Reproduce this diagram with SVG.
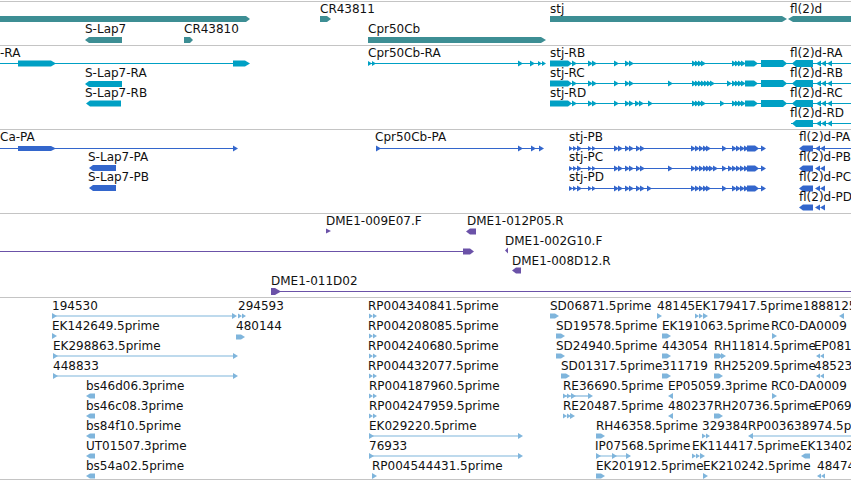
<svg xmlns="http://www.w3.org/2000/svg" xmlns:xlink="http://www.w3.org/1999/xlink" width="851" height="481" viewBox="0 0 851 481">
<style>
text{font-family:"DejaVu Sans","Liberation Sans",sans-serif;font-size:12px;fill:#111}
.sep{stroke:#c4c4c4;stroke-width:1}
.g{fill:#3d8e94}
.t{fill:#00a0c4}.tl{stroke:#00a0c4;stroke-width:1.2;fill:none}
.p{fill:#3366cc}.pl{stroke:#3366cc;stroke-width:1.2;fill:none}
.d{fill:#6b52a8}.dl{stroke:#6b52a8;stroke-width:1.2;fill:none}
.e{fill:#7fb5dc}.el{stroke:#7fb5dc;stroke-width:1.2;fill:none}
</style>
<defs>
<path id="r" d="M0,-3L5,0L0,3Z"/>
<path id="l" d="M5,-3L0,0L5,3Z"/>
<path id="rb" d="M0,-2.5h5l4,2.5l-4,2.5h-5Z"/>
<path id="lb" d="M9,-2.5h-5l-4,2.5l4,2.5h5Z"/>
<path id="rr" d="M0,-2.5l4,2.5l-4,2.5Z M4,-2.5l4,2.5l-4,2.5Z"/>
<path id="ll" d="M4,-2.5l-4,2.5l4,2.5Z M8,-2.5l-4,2.5l4,2.5Z"/>
<g id="stjT">
<path d="M550,-3h18l4,3l-4,3h-18Z"/>
<use href="#r" x="572"/><use href="#r" x="588"/><use href="#r" x="592"/>
<use href="#r" x="614"/><use href="#r" x="625"/><use href="#r" x="629"/>
<use href="#r" x="692"/><use href="#r" x="695"/><use href="#r" x="698"/><use href="#r" x="701"/>
<use href="#r" x="732"/><use href="#r" x="735"/><use href="#r" x="738"/><use href="#r" x="741"/>
<path d="M745,-3h9l4,3l-4,3h-9Z"/>
<path d="M761,-3.5h22l4,3.5l-4,3.5h-22Z"/>
</g>
<g id="flT">
<path d="M792,0l4,-3.5h17v7h-17Z"/>
<use href="#l" x="816"/><use href="#l" x="821"/><use href="#l" x="827"/>
</g>
<g id="stjP">
<use href="#rr" x="569"/><use href="#r" x="577"/>
<use href="#rr" x="588"/>
<use href="#r" x="614"/><use href="#r" x="618"/><use href="#r" x="625"/><use href="#r" x="629"/>
<use href="#r" x="636"/><use href="#r" x="640"/>
<use href="#r" x="691"/><use href="#r" x="695"/><use href="#r" x="699"/><use href="#r" x="703"/><use href="#r" x="706"/>
<use href="#r" x="722"/>
<use href="#r" x="732"/><use href="#r" x="736"/><use href="#r" x="740"/><use href="#r" x="744"/>
<path d="M747,-3h8l4,3l-4,3h-8Z"/>
<use href="#r" x="761"/>
</g>
<g id="flP">
<path d="M799,0l4,-3h10v6h-10Z"/>
<use href="#l" x="815"/><use href="#l" x="820"/>
</g>
</defs>

<g id="separators">
<line class="sep" x1="0" y1="1.5" x2="851" y2="1.5"/>
<line class="sep" x1="0" y1="45.5" x2="851" y2="45.5"/>
<line class="sep" x1="0" y1="129.5" x2="851" y2="129.5"/>
<line class="sep" x1="0" y1="213.5" x2="851" y2="213.5"/>
<line class="sep" x1="0" y1="297.5" x2="851" y2="297.5"/>
<line class="sep" x1="0" y1="479.5" x2="851" y2="479.5"/>
</g>

<!-- Gene track -->
<g id="gene-left"><path class="g" d="M0,16h246l4,3l-4,3h-246Z"/></g>
<g id="gene-S-Lap7"><text x="85" y="33">S-Lap7</text><path class="g" d="M85,40l4,-3h33v6h-33Z"/></g>
<g id="gene-CR43810"><text x="184" y="33">CR43810</text><path class="g" d="M184,37h6l3,3l-3,3h-6Z"/></g>
<g id="gene-CR43811"><text x="320" y="13">CR43811</text><path class="g" d="M320,16h7l4,3l-4,3h-7Z"/></g>
<g id="gene-Cpr50Cb"><text x="368" y="33">Cpr50Cb</text><path class="g" d="M368,37h173l5,3l-5,3h-173Z"/></g>
<g id="gene-stj"><text x="550" y="13">stj</text><path class="g" d="M550,16h232l5,3l-5,3h-232Z"/></g>
<g id="gene-fl2d"><text x="790" y="13">fl(2)d</text><path class="g" d="M788,19l5,-3h58v6h-58Z"/></g>

<!-- Transcript track -->
<g id="tr-RA-left" class="t"><text x="0" y="57">-RA</text>
<line class="tl" x1="0" y1="63.5" x2="246" y2="63.5"/>
<path d="M18,60.5h33l5,3l-5,3h-33Z"/><path d="M233,60.5h12l5,3l-5,3h-12Z"/></g>
<g id="tr-S-Lap7-RA" class="t"><text x="85" y="77">S-Lap7-RA</text><path d="M85,84l4,-3h33v6h-33Z"/></g>
<g id="tr-S-Lap7-RB" class="t"><text x="85" y="97">S-Lap7-RB</text><path d="M86,103.5l4,-3h31v6h-31Z"/></g>
<g id="tr-Cpr50Cb-RA" class="t"><text x="368" y="57">Cpr50Cb-RA</text>
<line class="tl" x1="368" y1="63.5" x2="544" y2="63.5"/>
<g transform="translate(0,63.5)"><use href="#rr" x="368"/><use href="#r" x="518"/><use href="#r" x="530"/><use href="#rr" x="538"/></g></g>
<g id="tr-stj-RB" class="t"><text x="550" y="57">stj-RB</text>
<line class="tl" x1="550" y1="63.5" x2="851" y2="63.5"/>
<use href="#stjT" y="63.5"/></g>
<g id="tr-stj-RC" class="t"><text x="550" y="77">stj-RC</text>
<line class="tl" x1="550" y1="83.5" x2="851" y2="83.5"/>
<use href="#stjT" y="83.5"/>
<g transform="translate(0,83.5)"><use href="#r" x="668"/><use href="#r" x="704"/><use href="#r" x="707"/><use href="#r" x="710"/><use href="#r" x="727"/></g></g>
<g id="tr-stj-RD" class="t"><text x="550" y="97">stj-RD</text>
<line class="tl" x1="550" y1="103.5" x2="851" y2="103.5"/>
<use href="#stjT" y="103.5"/>
<g transform="translate(0,103.5)"><use href="#r" x="635"/><use href="#r" x="639"/><use href="#r" x="648"/><use href="#r" x="720"/></g></g>
<g id="tr-fl2d-RA" class="t"><text x="790" y="57">fl(2)d-RA</text><use href="#flT" y="63.5"/></g>
<g id="tr-fl2d-RB" class="t"><text x="790" y="77">fl(2)d-RB</text><use href="#flT" y="83.5"/></g>
<g id="tr-fl2d-RC" class="t"><text x="790" y="97">fl(2)d-RC</text><use href="#flT" y="103.5"/></g>
<g id="tr-fl2d-RD" class="t"><text x="790" y="117">fl(2)d-RD</text>
<line class="tl" x1="791" y1="123.5" x2="851" y2="123.5"/>
<use href="#flT" y="123.5"/></g>

<!-- Protein track -->
<g id="pr-Ca-PA" class="p"><text x="0" y="141">Ca-PA</text>
<line class="pl" x1="0" y1="148.5" x2="234" y2="148.5"/>
<path d="M18,146h33l5,2.5l-5,2.5h-33Z"/><path d="M233,145.5l5,3l-5,3Z"/></g>
<g id="pr-S-Lap7-PA" class="p"><text x="88" y="161">S-Lap7-PA</text><path d="M89,168l4,-3h23v6h-23Z"/></g>
<g id="pr-S-Lap7-PB" class="p"><text x="88" y="181">S-Lap7-PB</text><path d="M89,188l4,-3h23v6h-23Z"/></g>
<g id="pr-Cpr50Cb-PA" class="p"><text x="375" y="141">Cpr50Cb-PA</text>
<line class="pl" x1="376" y1="148.5" x2="542" y2="148.5"/>
<g transform="translate(0,148.5)"><use href="#r" x="376"/><use href="#r" x="518"/><use href="#r" x="531"/><use href="#r" x="539"/></g></g>
<g id="pr-stj-PB" class="p"><text x="569" y="141">stj-PB</text>
<line class="pl" x1="569" y1="148.5" x2="764" y2="148.5"/><use href="#stjP" y="148.5"/></g>
<g id="pr-stj-PC" class="p"><text x="569" y="161">stj-PC</text>
<line class="pl" x1="569" y1="168.5" x2="764" y2="168.5"/><use href="#stjP" y="168.5"/>
<g transform="translate(0,168.5)"><use href="#r" x="668"/><use href="#r" x="709"/><use href="#r" x="713"/><use href="#r" x="728"/></g></g>
<g id="pr-stj-PD" class="p"><text x="569" y="181">stj-PD</text>
<line class="pl" x1="569" y1="188.5" x2="764" y2="188.5"/><use href="#stjP" y="188.5"/>
<g transform="translate(0,188.5)"><use href="#r" x="647"/></g></g>
<g id="pr-fl2d-PA" class="p"><text x="799" y="141">fl(2)d-PA</text>
<line class="pl" x1="813" y1="148.5" x2="851" y2="148.5"/><use href="#flP" y="148.5"/></g>
<g id="pr-fl2d-PB" class="p"><text x="799" y="161">fl(2)d-PB</text><use href="#flP" y="168.5"/></g>
<g id="pr-fl2d-PC" class="p"><text x="799" y="181">fl(2)d-PC</text><use href="#flP" y="188.5"/></g>
<g id="pr-fl2d-PD" class="p"><text x="799" y="201">fl(2)d-PD</text><use href="#flP" y="207.5"/></g>

<!-- DME track -->
<g id="dme-009E07F" class="d"><text x="326" y="225">DME1-009E07.F</text><path d="M326,228.5l5,2.5l-5,2.5Z"/></g>
<g id="dme-012P05R" class="d"><text x="467" y="225">DME1-012P05.R</text><path d="M466,231.5l4,-3h6v6h-6Z"/></g>
<g id="dme-long" class="d"><line class="dl" x1="0" y1="251.5" x2="465" y2="251.5"/><path d="M463,248.5h7l4,3l-4,3h-7Z"/></g>
<g id="dme-002G10F" class="d"><text x="505" y="245">DME1-002G10.F</text><path d="M505,250.5l3,-3v6Z"/></g>
<g id="dme-008D12R" class="d"><text x="512" y="265">DME1-008D12.R</text><path d="M512,270.5l4,-3h5v6h-5Z"/></g>
<g id="dme-011D02" class="d"><text x="271" y="285">DME1-011D02</text>
<line class="dl" x1="276" y1="291.5" x2="851" y2="291.5"/><path d="M271,288h4l6,3.5l-6,3.5h-4Z"/></g>

<!-- EST track -->
<g class="e">
<g id="est-194530"><text x="52" y="310">194530</text><line class="el" x1="52" y1="316" x2="234" y2="316"/><use href="#r" x="52" y="316"/><use href="#r" x="232" y="316"/></g>
<g id="est-294593"><text x="238" y="310">294593</text><use href="#rr" x="238" y="316"/></g>
<g id="est-EK142649"><text x="52" y="330">EK142649.5prime</text><use href="#r" x="52" y="336"/></g>
<g id="est-480144"><text x="236" y="330">480144</text><use href="#rb" x="236" y="337"/></g>
<g id="est-EK298863"><text x="53" y="350">EK298863.5prime</text><line class="el" x1="53" y1="356" x2="235" y2="356"/><use href="#r" x="53" y="356"/><use href="#r" x="233" y="356"/></g>
<g id="est-448833"><text x="53" y="370">448833</text><line class="el" x1="53" y1="376" x2="235" y2="376"/><use href="#r" x="53" y="376"/><use href="#r" x="233" y="376"/></g>
<g id="est-bs46d06"><text x="86" y="390">bs46d06.3prime</text><use href="#lb" x="86" y="396"/></g>
<g id="est-bs46c08"><text x="86" y="410">bs46c08.3prime</text><use href="#lb" x="86" y="416"/></g>
<g id="est-bs84f10"><text x="86" y="430">bs84f10.5prime</text><use href="#lb" x="86" y="436"/></g>
<g id="est-UT01507"><text x="86" y="450">UT01507.3prime</text><use href="#lb" x="86" y="456"/></g>
<g id="est-bs54a02"><text x="86" y="470">bs54a02.5prime</text><use href="#lb" x="86" y="476"/></g>

<g id="est-RP004340841"><text x="368" y="310">RP004340841.5prime</text><use href="#rr" x="369" y="316"/></g>
<g id="est-RP004208085"><text x="368" y="330">RP004208085.5prime</text><use href="#rr" x="369" y="336"/></g>
<g id="est-RP004240680"><text x="368" y="350">RP004240680.5prime</text><use href="#rr" x="369" y="356"/></g>
<g id="est-RP004432077"><text x="368" y="370">RP004432077.5prime</text><use href="#rr" x="369" y="376"/></g>
<g id="est-RP004187960"><text x="369" y="390">RP004187960.5prime</text><use href="#rr" x="369" y="396"/></g>
<g id="est-RP004247959"><text x="369" y="410">RP004247959.5prime</text><use href="#rr" x="369" y="416"/></g>
<g id="est-EK029220"><text x="369" y="430">EK029220.5prime</text><line class="el" x1="369" y1="436" x2="520" y2="436"/><use href="#r" x="369" y="436"/><use href="#r" x="518" y="436"/></g>
<g id="est-76933"><text x="369" y="450">76933</text><line class="el" x1="369" y1="456" x2="520" y2="456"/><use href="#r" x="369" y="456"/><use href="#r" x="518" y="456"/></g>
<g id="est-RP004544431"><text x="372" y="470">RP004544431.5prime</text><use href="#r" x="372" y="476"/></g>

<g id="est-SD06871"><text x="550" y="310">SD06871.5prime</text><use href="#rb" x="550" y="316"/></g>
<g id="est-48145"><text x="657" y="310">48145</text><use href="#r" x="657" y="316"/></g>
<g id="est-EK179417"><text x="695" y="310">EK179417.5prime</text><use href="#rr" x="695" y="316"/><use href="#r" x="703" y="316"/></g>
<g id="est-1888125"><text x="803" y="310">1888125</text><use href="#l" x="839" y="316"/></g>

<g id="est-SD19578"><text x="556" y="330">SD19578.5prime</text><use href="#rb" x="556" y="336"/></g>
<g id="est-EK191063"><text x="662" y="330">EK191063.5prime</text><use href="#rb" x="662" y="336"/></g>
<g id="est-RC0-DA0009a"><text x="771" y="330">RC0-DA0009</text><use href="#r" x="772" y="336"/></g>

<g id="est-SD24940"><text x="556" y="350">SD24940.5prime</text><use href="#rb" x="556" y="356"/></g>
<g id="est-443054"><text x="662" y="350">443054</text><use href="#rb" x="662" y="356"/></g>
<g id="est-RH11814"><text x="714" y="350">RH11814.5prime</text><use href="#rb" x="714" y="356"/><use href="#r" x="721" y="356"/></g>
<g id="est-EP081"><text x="814" y="350">EP0815</text><use href="#ll" x="816" y="356"/></g>

<g id="est-SD01317"><text x="561" y="370">SD01317.5prime</text><use href="#rb" x="561" y="376"/></g>
<g id="est-311719"><text x="662" y="370">311719</text><use href="#rb" x="662" y="376"/></g>
<g id="est-RH25209"><text x="714" y="370">RH25209.5prime</text><use href="#rb" x="714" y="376"/></g>
<g id="est-48523"><text x="814" y="370">485239</text><use href="#ll" x="816" y="376"/></g>

<g id="est-RE36690"><text x="563" y="390">RE36690.5prime</text><line class="el" x1="563" y1="396" x2="590" y2="396"/><use href="#rr" x="563" y="396"/><use href="#r" x="571" y="396"/><use href="#r" x="588" y="396"/></g>
<g id="est-EP05059"><text x="668" y="390">EP05059.3prime</text><use href="#l" x="668" y="396"/></g>
<g id="est-RC0-DA0009b"><text x="771" y="390">RC0-DA0009</text><use href="#r" x="772" y="396"/></g>

<g id="est-RE20487"><text x="563" y="410">RE20487.5prime</text><use href="#rr" x="563" y="416"/><use href="#r" x="570" y="416"/></g>
<g id="est-480237"><text x="668" y="410">480237</text><use href="#l" x="668" y="416"/></g>
<g id="est-RH20736"><text x="714" y="410">RH20736.5prime</text><use href="#rb" x="714" y="416"/></g>
<g id="est-EP069"><text x="814" y="410">EP0691</text></g>

<g id="est-RH46358"><text x="596" y="430">RH46358.5prime</text><use href="#rb" x="596" y="436"/></g>
<g id="est-329384"><text x="702" y="430">329384</text><use href="#rr" x="702" y="436"/></g>
<g id="est-RP003638974"><text x="748" y="430">RP003638974.5prime</text><line class="el" x1="750" y1="436" x2="851" y2="436"/><use href="#l" x="748" y="436"/></g>

<g id="est-IP07568"><text x="595" y="450">IP07568.5prime</text><line class="el" x1="596" y1="456" x2="630" y2="456"/><use href="#r" x="596" y="456"/><use href="#r" x="612" y="456"/><use href="#r" x="626" y="456"/></g>
<g id="est-EK114417"><text x="692" y="450">EK114417.5prime</text><use href="#rr" x="692" y="456"/><use href="#r" x="700" y="456"/></g>
<g id="est-EK13402"><text x="800" y="450">EK13402</text><use href="#lb" x="801" y="456"/></g>

<g id="est-EK201912"><text x="596" y="470">EK201912.5prime</text><use href="#rb" x="596" y="476"/></g>
<g id="est-EK210242"><text x="703" y="470">EK210242.5prime</text><use href="#r" x="703" y="476"/></g>
<g id="est-4847"><text x="817" y="470">48474</text><use href="#ll" x="817" y="476"/></g>
</g>
</svg>
